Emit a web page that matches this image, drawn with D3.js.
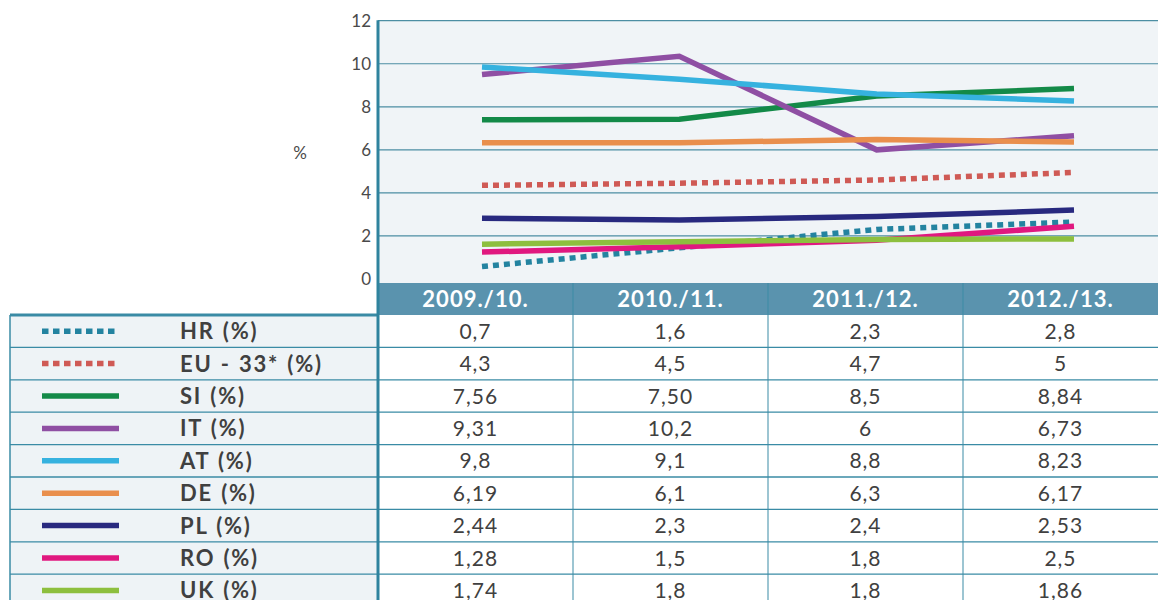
<!DOCTYPE html>
<html>
<head>
<meta charset="utf-8">
<script src="https://cdn.jsdelivr.net/npm/d3@7"></script>
<style>
  body { margin: 0; background: #fff; }
  svg { display: block; font-family: Lato, "Open Sans", sans-serif; }
</style>
</head>
<body>
<div id="chart"></div>
<script>
//data: school years and series
const categories = ["2009./10.", "2010./11.", "2011./12.", "2012./13."];
const seriesNames = ["HR (%)", "EU - 33* (%)", "SI (%)", "IT (%)", "AT (%)", "DE (%)", "PL (%)", "RO (%)", "UK (%)"];
const seriesColors = ["#2383a0", "#cf5a55", "#138a48", "#8f4fa3", "#36b2df", "#e98f4d", "#28297f", "#e0187f", "#8dbf3e"];
const dashed = [true, true, false, false, false, false, false, false, false];

//values as the lines are drawn in the source picture
const hrLine = [0.58, 1.45, 2.3, 2.65];
const euLine = [4.35, 4.45, 4.6, 4.95];
const siLine = [7.4, 7.42, 8.5, 8.85];
const itLine = [9.5, 10.35, 6.0, 6.65];
const atLine = [9.85, 9.28, 8.6, 8.27];
const deLine = [6.33, 6.33, 6.48, 6.37];
const plLine = [2.82, 2.74, 2.9, 3.2];
const roLine = [1.25, 1.5, 1.8, 2.45];
const ukLine = [1.62, 1.73, 1.84, 1.86];

//values as printed in the table
const hrTable = ["0,7", "1,6", "2,3", "2,8"];
const euTable = ["4,3", "4,5", "4,7", "5"];
const siTable = ["7,56", "7,50", "8,5", "8,84"];
const itTable = ["9,31", "10,2", "6", "6,73"];
const atTable = ["9,8", "9,1", "8,8", "8,23"];
const deTable = ["6,19", "6,1", "6,3", "6,17"];
const plTable = ["2,44", "2,3", "2,4", "2,53"];
const roTable = ["1,28", "1,5", "1,8", "2,5"];
const ukTable = ["1,74", "1,8", "1,8", "1,86"];

const yTicks = [0, 2, 4, 6, 8, 10, 12];

const lineValues = [hrLine, euLine, siLine, itLine, atLine, deLine, plLine, roLine, ukLine];
const tableValues = [hrTable, euTable, siTable, itTable, atTable, deTable, plTable, roTable, ukTable];

const series = seriesNames.map((name, i) => ({
  name: name,
  color: seriesColors[i],
  dashed: dashed[i],
  values: lineValues[i],
  cells: tableValues[i]
}));

//layout
const width = 1158,
    height = 600,
    plotLeft = 378,
    plotRight = 1158,
    plotTop = 20.7,
    plotBottom = 283,
    headerH = 32,
    rowH = 32.4,
    legendLeft = 10;

const teal = "#3a8ba5";

const svg = d3.select("#chart").append("svg")
    .attr("width", width)
    .attr("height", height);

const y = d3.scaleLinear()
    .domain([0, 12])
    .range([279, plotTop]);

const xLine = d3.scalePoint()
    .domain(categories)
    .range([482, 1074]);

const xCol = d3.scaleBand()
    .domain(categories)
    .range([plotLeft, plotRight]);

//plot background
svg.append("rect")
    .attr("x", plotLeft)
    .attr("y", plotTop)
    .attr("width", plotRight - plotLeft)
    .attr("height", plotBottom - plotTop)
    .attr("fill", "#f0f4f7");

//gridlines
svg.append("g")
  .selectAll("line")
  .data(yTicks.filter(d => d > 0))
  .enter()
    .append("line")
    .attr("x1", plotLeft)
    .attr("x2", plotRight)
    .attr("y1", d => y(d))
    .attr("y2", d => y(d))
    .attr("stroke", "#4c8ea3")
    .attr("stroke-width", 1.2);

//y axis labels
svg.append("g")
  .selectAll("text")
  .data(yTicks)
  .enter()
    .append("text")
    .attr("x", 371)
    .attr("y", d => y(d))
    .attr("dy", "0.35em")
    .attr("text-anchor", "end")
    .attr("font-size", 17)
    .attr("fill", "#4a4a4a")
    .text(d => d);

svg.append("text")
    .attr("x", 300)
    .attr("y", 153)
    .attr("dy", "0.35em")
    .attr("text-anchor", "middle")
    .attr("font-size", 17)
    .attr("fill", "#4a4a4a")
    .text("%");

//lines
const line = d3.line()
    .x((d, i) => xLine(categories[i]))
    .y(d => y(d));

svg.append("g")
  .selectAll("path")
  .data(series)
  .enter()
    .append("path")
    .attr("d", d => line(d.values))
    .attr("fill", "none")
    .attr("stroke", d => d.color)
    .attr("stroke-width", 5.5)
    .attr("stroke-dasharray", d => d.dashed ? "6,5" : null);

//header row
const tableTop = plotBottom;
svg.append("rect")
    .attr("x", plotLeft)
    .attr("y", tableTop)
    .attr("width", plotRight - plotLeft)
    .attr("height", headerH)
    .attr("fill", "#5a93ae");

svg.append("g")
  .selectAll("text")
  .data(categories)
  .enter()
    .append("text")
    .attr("x", d => xCol(d) + xCol.bandwidth() / 2)
    .attr("y", tableTop + headerH / 2)
    .attr("dy", "0.36em")
    .attr("text-anchor", "middle")
    .attr("font-size", 22)
    .attr("font-weight", "bold")
    .attr("letter-spacing", 1)
    .attr("fill", "#fff")
    .text(d => d);

const bodyTop = tableTop + headerH;

//legend column background
svg.append("rect")
    .attr("x", legendLeft)
    .attr("y", bodyTop)
    .attr("width", plotLeft - legendLeft)
    .attr("height", height - bodyTop)
    .attr("fill", "#eef3f6");

//row separators
svg.append("g")
  .selectAll("line")
  .data(d3.range(1, series.length + 1))
  .enter()
    .append("line")
    .attr("x1", legendLeft)
    .attr("x2", plotRight)
    .attr("y1", i => bodyTop + i * rowH)
    .attr("y2", i => bodyTop + i * rowH)
    .attr("stroke", teal)
    .attr("stroke-width", 1.3);

//column separators
svg.append("g")
  .selectAll("line")
  .data(categories.slice(1))
  .enter()
    .append("line")
    .attr("x1", d => xCol(d))
    .attr("x2", d => xCol(d))
    .attr("y1", tableTop)
    .attr("y2", height)
    .attr("stroke", teal)
    .attr("stroke-width", 1);

//left border and top border of the legend table
svg.append("line")
    .attr("x1", legendLeft)
    .attr("x2", legendLeft)
    .attr("y1", bodyTop)
    .attr("y2", height)
    .attr("stroke", teal)
    .attr("stroke-width", 1.5);

svg.append("line")
    .attr("x1", legendLeft)
    .attr("x2", plotLeft)
    .attr("y1", bodyTop)
    .attr("y2", bodyTop)
    .attr("stroke", teal)
    .attr("stroke-width", 3);

//thick vertical axis line
svg.append("line")
    .attr("x1", plotLeft)
    .attr("x2", plotLeft)
    .attr("y1", plotTop - 0.5)
    .attr("y2", height)
    .attr("stroke", "#2f839e")
    .attr("stroke-width", 3);

//table rows
const rows = svg.append("g")
  .selectAll("g")
  .data(series)
  .enter()
    .append("g")
    .attr("transform", (d, i) => "translate(0," + (bodyTop + i * rowH + rowH / 2) + ")");

rows.append("line")
    .attr("x1", 42)
    .attr("x2", 119)
    .attr("y1", 0)
    .attr("y2", 0)
    .attr("stroke", d => d.color)
    .attr("stroke-width", 5.5)
    .attr("stroke-dasharray", d => d.dashed ? "6.5,4.5" : null);

rows.append("text")
    .attr("x", 180)
    .attr("dy", "0.36em")
    .attr("font-size", 22)
    .attr("font-weight", "bold")
    .attr("letter-spacing", 1.8)
    .attr("word-spacing", 1)
    .attr("fill", "#404040")
    .text(d => d.name);

rows.selectAll(".cell")
    .data(d => d.cells)
  .enter()
    .append("text")
    .attr("class", "cell")
    .attr("x", (d, i) => xCol(categories[i]) + xCol.bandwidth() / 2)
    .attr("dy", "0.36em")
    .attr("text-anchor", "middle")
    .attr("font-size", 21)
    .attr("letter-spacing", 1)
    .attr("fill", "#404040")
    .text(d => d);
</script>
</body>
</html>
